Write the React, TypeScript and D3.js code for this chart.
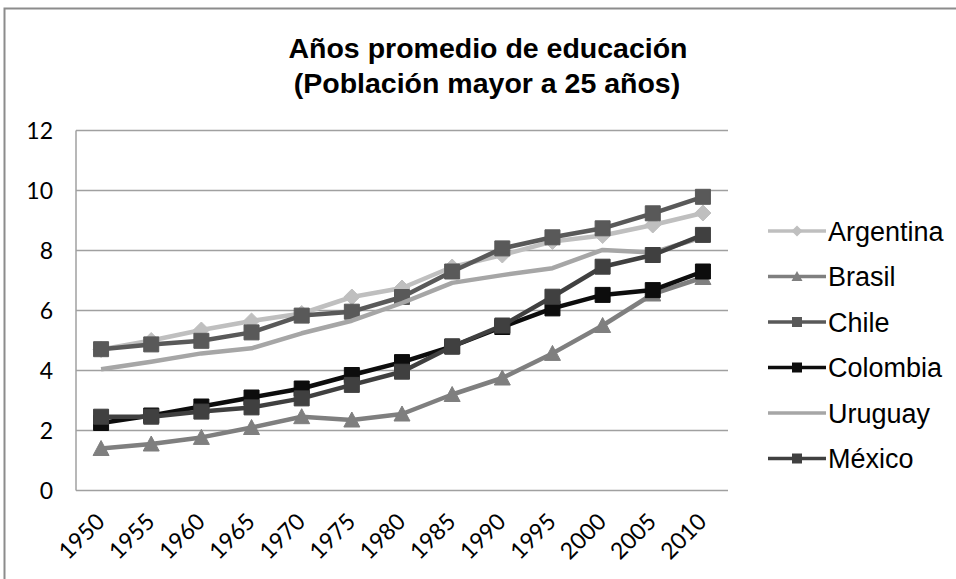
import React from "react";
import { scaleBand, scaleLinear, line } from "d3";

const width = 956;
const height = 579;
const plot = { left: 76, right: 728, top: 130.5, bottom: 490.5 };

const years = ["1950", "1955", "1960", "1965", "1970", "1975", "1980", "1985", "1990", "1995", "2000", "2005", "2010"];
const yTicks = [0, 2, 4, 6, 8, 10, 12];

const argentina = [4.7, 5.0, 5.35, 5.65, 5.9, 6.45, 6.75, 7.45, 7.85, 8.3, 8.5, 8.85, 9.25];
const brasil = [1.4, 1.55, 1.77, 2.1, 2.46, 2.35, 2.55, 3.2, 3.75, 4.57, 5.5, 6.55, 7.1];
const chile = [4.71, 4.87, 4.99, 5.27, 5.83, 5.96, 6.45, 7.3, 8.07, 8.44, 8.74, 9.24, 9.79];
const colombia = [2.25, 2.5, 2.8, 3.1, 3.4, 3.85, 4.28, 4.8, 5.45, 6.07, 6.52, 6.68, 7.3];
const uruguay = [4.04, 4.29, 4.57, 4.74, 5.24, 5.66, 6.25, 6.92, 7.18, 7.41, 8.02, 7.93, 8.45];
const mexico = [2.46, 2.46, 2.63, 2.77, 3.07, 3.52, 3.96, 4.8, 5.5, 6.46, 7.46, 7.85, 8.52];

const series = [
  { name: "Argentina", values: argentina, color: "#bfbfbf", marker: "diamond" },
  { name: "Brasil", values: brasil, color: "#7f7f7f", marker: "triangle" },
  { name: "Chile", values: chile, color: "#595959", marker: "square" },
  { name: "Colombia", values: colombia, color: "#0d0d0d", marker: "square" },
  { name: "Uruguay", values: uruguay, color: "#a6a6a6", marker: "none" },
  { name: "México", values: mexico, color: "#404040", marker: "square" },
];

const x = scaleBand().domain(years).range([plot.left, plot.right]);
const y = scaleLinear().domain([0, 12]).range([plot.bottom, plot.top]);
const cx = (d) => x(d) + x.bandwidth() / 2;

// marker path centred at 0,0
function markerPath(type, s) {
  const r = s / 2;
  if (type === "diamond") return `M0,${-r - 1}L${r + 1},0L0,${r + 1}L${-r - 1},0Z`;
  if (type === "triangle") return `M0,${-r - 1}L${r + 1},${r}L${-r - 1},${r}Z`;
  if (type === "square") return `M${-r},${-r}H${r}V${r}H${-r}Z`;
  return null;
}

export default function App() {
  const path = line<number>()
    .x((d, i) => cx(years[i]))
    .y((d) => y(d));

  return (
    <svg
      width={width}
      height={height}
      style={{ position: "absolute", left: 0, top: 0, background: "#fff" }}
      fontFamily="'Liberation Sans', Arial, sans-serif"
    >
      <rect x={4.5} y={8.5} width={1200} height={1200} fill="none" stroke="#8c8c8c" strokeWidth={2} />

      <text x={488} y={58} textAnchor="middle" fontSize={28.5} fontWeight="bold" fill="#000">
        Años promedio de educación
      </text>
      <text x={487} y={93} textAnchor="middle" fontSize={28.5} fontWeight="bold" fill="#000">
        (Población mayor a 25 años)
      </text>

      {yTicks.map((t) => (
        <g key={t}>
          {t > 0 && (
            <line x1={plot.left} x2={plot.right} y1={y(t)} y2={y(t)} stroke="#a0a0a0" strokeWidth={1.5} />
          )}
          <text x={53} y={y(t)} dy=".36em" textAnchor="end" fontSize={23} fontFamily="Lato, sans-serif" fill="#000">
            {t}
          </text>
        </g>
      ))}
      <line x1={plot.left} x2={plot.left} y1={plot.top} y2={plot.bottom} stroke="#a0a0a0" strokeWidth={1.5} />
      <line x1={plot.left} x2={plot.right} y1={plot.bottom} y2={plot.bottom} stroke="#a0a0a0" strokeWidth={1.5} />

      {years.map((yr) => (
        <text
          key={yr}
          transform={`translate(${cx(yr) + 5}, 523) rotate(-45)`}
          textAnchor="end"
          fontSize={23}
          fontFamily="Lato, sans-serif"
          fill="#000"
        >
          {yr}
        </text>
      ))}

      {series.map((s) => (
        <g key={s.name}>
          <path d={path(s.values)} fill="none" stroke={s.color} strokeWidth={4.5} strokeLinejoin="round" />
          {s.marker !== "none" &&
            s.values.map((v, i) => (
              <path
                key={i}
                transform={`translate(${cx(years[i])}, ${y(v)})`}
                d={markerPath(s.marker, s.marker === "square" ? 15 : 14)}
                fill={s.color}
                stroke={s.color}
                strokeWidth={1}
              />
            ))}
        </g>
      ))}

      {series.map((s, i) => {
        const ly = 231 + i * 45.5;
        return (
          <g key={s.name}>
            <line x1={768} x2={826} y1={ly} y2={ly} stroke={s.color} strokeWidth={3.5} />
            {s.marker !== "none" && (
              <path
                transform={`translate(797, ${ly})`}
                d={markerPath(s.marker, s.marker === "square" ? 10 : 9)}
                fill={s.color}
              />
            )}
            <text x={828} y={ly} dy=".36em" fontSize={27} fill="#000">
              {s.name}
            </text>
          </g>
        );
      })}
    </svg>
  );
}
